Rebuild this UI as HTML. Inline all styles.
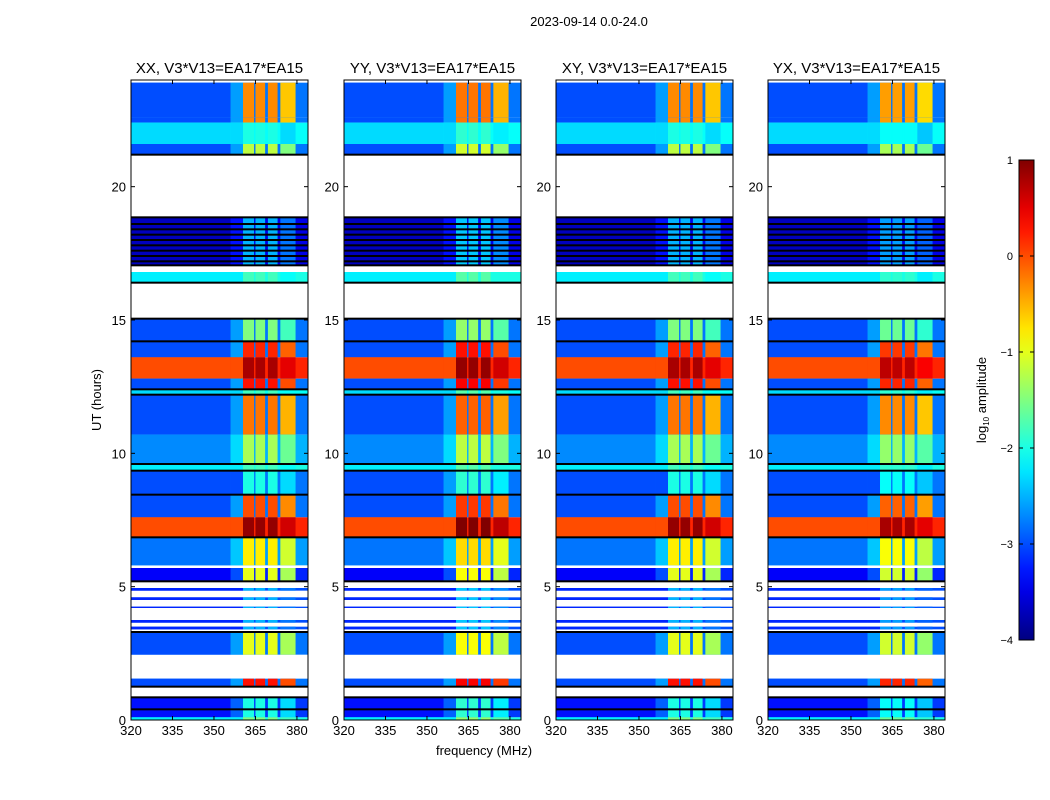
<!DOCTYPE html>
<html><head><meta charset="utf-8"><style>
body{margin:0;background:#fff;width:1050px;height:800px;overflow:hidden}
svg{display:block;font-family:"Liberation Sans",sans-serif}
</style></head><body>
<svg id="fig" width="1050" height="800"></svg>
<script>
// ---- data ----
const panelTitles = ["XX, V3*V13=EA17*EA15","YY, V3*V13=EA17*EA15","XY, V3*V13=EA17*EA15","YX, V3*V13=EA17*EA15"];
const panelBandOffset = [0, 0.1, 0, -0.1];
const xTicks = [320,335,350,365,380];
const yTicks = [0,5,10,15,20];
const cbTicks = [1,0,-1,-2,-3,-4];
// time segments: start hour, end hour, background level, band level
const segStart = [22.6,22.4,21.6,21.2,17.05,16.4,14.2,13.6,12.8,12.4,12.2,10.7,9.6,9.35,8.45,7.6,6.85,5.8,5.2,4.85,4.5,4.2,3.65,3.4,2.45,1.25,0.1,0.0];
const segEnd   = [23.9,22.6,22.4,21.6,18.85,16.8,15.05,14.2,13.6,12.8,12.4,12.2,10.7,9.6,9.35,8.45,7.6,6.85,5.7,4.95,4.6,4.25,3.75,3.5,3.3,1.55,0.85,0.1];
const segBg    = [-3,-3,-2.3,-3,-3.7,-2.2,-3,-3,0,-3,-2.3,-3,-2.7,-2.2,-3,-3,0,-2.8,-3.4,-3.2,-3.2,-3.2,-3.2,-3.2,-3,-3,-3.3,-2.2];
const segBand  = [-0.3,-0.3,-2,-1.2,-2.5,-1.8,-1.5,0.2,0.8,0.3,-1.8,-0.2,-1.3,-1.8,-2,0,0.9,-0.8,-1,-2.5,-2.5,-2.5,-2.5,-2.5,-1,0.3,-2,-1.5];
const blackLines = [21.2,18.85,18.6,18.4,18.2,18.0,17.8,17.6,17.4,17.2,17.05,16.4,15.05,14.2,12.4,12.2,9.6,9.35,8.45,6.85,5.2,3.3,1.25,0.85,0.4];
const bandLo = [360.5,365,369.5,374];
const bandHi = [364.5,368.5,373,379.5];
// ---- helpers ----
const NS="http://www.w3.org/2000/svg";
const svg=document.getElementById('fig');
function el(t,a,p){const e=document.createElementNS(NS,t);for(const k in a)e.setAttribute(k,a[k]);(p||svg).appendChild(e);return e;}
function jet(v){let t=Math.max(0,Math.min(1,(v+4)/5));
 const r=Math.max(0,Math.min(1,1.5-Math.abs(4*t-3))),g=Math.max(0,Math.min(1,1.5-Math.abs(4*t-2))),b=Math.max(0,Math.min(1,1.5-Math.abs(4*t-1)));
 return `rgb(${Math.round(r*255)},${Math.round(g*255)},${Math.round(b*255)})`;}
const panelX=[131,344,556,768], PW=177, PT=80, PB=720;
const yS=h=>PB-(h/24)*(PB-PT);
function t(x,y,s,txt,anchor,size){const e=el('text',{x:x,y:y,'font-size':size||13,'text-anchor':anchor||'middle',fill:'#000'});e.textContent=txt;return e;}
const title=t(589,26,13,"2023-09-14 0.0-24.0");


panelTitles.forEach((pt,pi)=>{
 const x0=panelX[pi];
 const xS=f=>x0+(f-320)/64*PW;
 const g=el('g',{});
 
 
 for(let i=0;i<segStart.length;i++){
  const y1=yS(segEnd[i]),y2=yS(segStart[i]),bg=segBg[i],bd=segBand[i]+panelBandOffset[pi];
  const r=el('rect',{x:xS(320),y:y1,width:xS(384)-xS(320),height:y2-y1,fill:jet(bg+0.2)},g);
  
  
  el('rect',{x:xS(320),y:y1,width:xS(356)-xS(320),height:y2-y1,fill:jet(bg)},g);
  el('rect',{x:xS(356),y:y1,width:xS(360.5)-xS(356),height:y2-y1,fill:jet(bd>bg+1?bg+0.4:bg)},g);
  for(let b=0;b<bandLo.length;b++){
   const c=el('rect',{x:xS(bandLo[b]),y:y1,width:xS(bandHi[b])-xS(bandLo[b]),height:y2-y1,fill:jet(bd-(b==3?0.3:0))},g);
   
   
  }
 }
 blackLines.forEach(h=>{el('rect',{x:x0,y:yS(h)-1,width:PW,height:2,fill:'#000'},g);});
 el('rect',{x:x0,y:PT,width:PW,height:PB-PT,fill:'none',stroke:'#000','stroke-width':1},g);
 const tt=t(x0+PW/2,73,'',pt,'middle',15);
 
 
 xTicks.forEach(v=>{const x=xS(v);el('line',{x1:x,x2:x,y1:PB,y2:PB-4,stroke:'#000'});el('line',{x1:x,x2:x,y1:PT,y2:PT+4,stroke:'#000'});
  const l=t(x,PB+15,13,String(v));});
 yTicks.forEach(v=>{const y=yS(v);el('line',{x1:x0,x2:x0+4,y1:y,y2:y,stroke:'#000'});el('line',{x1:x0+PW,x2:x0+PW-4,y1:y,y2:y,stroke:'#000'});
  const l=t(x0-5,y+5,13,String(v),'end');});
});
const xl=t(484,755,13,"frequency (MHz)");


const yl=t(0,0,13,"UT (hours)");
yl.setAttribute('transform','translate(101,400) rotate(-90)');


// colorbar
const defs=el('defs',{});
const lg=el('linearGradient',{id:'jetg',x1:0,y1:1,x2:0,y2:0},defs);
for(let i=0;i<=20;i++){el('stop',{offset:i/20,'stop-color':jet(-4+5*i/20)},lg);}
const cb=el('rect',{x:1019,y:160,width:15,height:480,fill:'url(#jetg)',stroke:'#000'});


cbTicks.forEach(v=>{const y=640-(v+4)/5*480;el('line',{x1:1019,x2:1023,y1:y,y2:y,stroke:'#000'});el('line',{x1:1034,x2:1030,y1:y,y2:y,stroke:'#000'});
 const l=t(1013,y+4,13,v<0?'\u2212'+(-v):String(v),'end',11);});
const cl=el('text',{transform:'translate(986,400) rotate(-90)','font-size':13,'text-anchor':'middle'});
cl.innerHTML='log<tspan font-size="8" dy="3">10</tspan><tspan dy="-3"> amplitude</tspan>';


</script>
</body></html>
